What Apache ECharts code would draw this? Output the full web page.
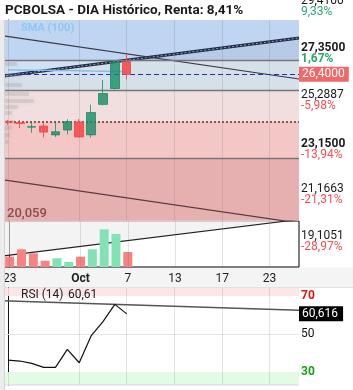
<!DOCTYPE html>
<html><head><meta charset="utf-8">
<script src="https://cdn.jsdelivr.net/npm/echarts@6/dist/echarts.min.js"></script>
<style>html,body{margin:0;padding:0;background:#fff}#c{width:353px;height:390px}</style>
</head><body><div id="c"></div>
<script>
// ---------- data ----------
const categories = ['2024-09-23','2024-09-24','2024-09-25','2024-09-26','2024-09-27','2024-09-30','2024-10-01','2024-10-02','2024-10-03','2024-10-04','2024-10-07',
  'f08','f09','f10','f11','f13','f14','f15','f16','f17','f18','f21','f23','f24','f25'];
const tickIndex = [0, 6, 10, 14, 18, 22];
const tickText  = ['23', 'Oct', '7', '13', '17', '23'];

const candleOpen  = [23.16, 23.10, 22.80, 22.87, 22.27, 22.60, 23.15, 22.27, 24.35, 25.43, 27.25];
const candleClose = [23.14, 23.05, 22.82, 22.46, 22.48, 23.17, 22.13, 23.79, 25.09, 27.23, 26.40];
const candleLow   = [22.94, 22.74, 22.41, 22.09, 22.13, 22.30, 22.11, 22.09, 24.28, 25.36, 26.05];
const candleHigh  = [23.29, 23.29, 23.15, 23.10, 23.10, 23.34, 23.34, 24.33, 26.01, 27.30, 27.78];
const volume      = [10.3, 17.7, 13.7, 6.3, 8.7, 5.0, 10.3, 17.7, 37.7, 33.0, 15.0];
const sma100      = [26.70, 26.69, 26.68, 26.67, 26.66, 26.65, 26.64, 26.62, 26.61, 26.59, 26.57];
const rsi14       = [36.3, 35.8, 34.6, 32.5, 32.5, 41.9, 34.9, 49.0, 56.5, 65.6, 60.6];

const lastPrice = 26.40;
const pivotLevel = 23.15;
const bandLevels = [30.1, 27.35, 25.2887, 23.15, 20.65, 16.4];
const bandColors = ['#b7cae6', '#d6e0e9', '#f1dfdf', '#f4c7c7', '#e6b0b0'];
const bandLines = [27.35, 25.2887, 20.65];

const trendUp    = [[-0.5, 26.26], [24.5, 28.87]];
const channelTop = [[-0.5, 29.04], [24.5, 26.08]];
const channelBot = [[-0.5, 19.22], [24.5, 16.26]];
const volTrend   = [[-0.5, 11.2], [24.5, 47.5]];
const rsiTrend   = [[-0.5, 67.5], [24.5, 62.5]];

const profilePrice = [27.10, 26.35, 25.67, 25.06, 24.58, 24.17, 23.76, 23.15, 22.74, 22.26, 21.78];
const profileVol   = [126, 152, 168, 227, 269, 135, 84, 109, 84, 67, 50];

const ladderValue = ['29,4100', '27,3500', '25,2887', '23,1500', '21,1663', '19,1051'];
const ladderPct   = ['9,33%', '1,67%', '-5,98%', '-13,94%', '-21,31%', '-28,97%'];
const ladderBold  = [false, true, false, true, false, false];

const titleText = 'PCBOLSA - DIA Histórico, Renta: 8,41%';
const rsiLast = 60.616;

// ---------- chart ----------
const FONT = 'Roboto, "Noto Sans", sans-serif';
const UP = 'rgba(22,140,100,0.8)', DOWN = 'rgba(242,78,78,0.9)';
const NOLINE = {color: 'rgba(0,0,0,0)', width: 0};
const chart = echarts.init(document.getElementById('c'), null, {renderer: 'canvas', width: 353, height: 390});

const candleData = candleOpen.map((o, i) => [o, candleClose[i], candleLow[i], candleHigh[i]]);
const volData = volume.map((v, i) => {
  const up = i === 0 ? candleClose[0] >= candleOpen[0] : candleClose[i] >= candleClose[i - 1];
  return {value: v, itemStyle: {color: up ? '#82e2b4' : '#f88282'}};
});
const vGrid = tickIndex.map(i => ({xAxis: i}));
const vGridStyle = {color: 'rgba(110,110,110,0.2)', width: 1, type: 'solid'};

const bandAreas = bandColors.map((c, i) => [{yAxis: bandLevels[i + 1], itemStyle: {color: c}}, {yAxis: bandLevels[i]}]);

const gridL = 2, gridR = 54;
const option = {
  animation: false,
  textStyle: {fontFamily: FONT},
  grid: [
    {left: gridL, right: gridR, top: 20, height: 201},
    {left: gridL, right: gridR, top: 221, height: 46, show: true, borderColor: '#000', borderWidth: 1},
    {left: gridL, right: gridR, top: 288, height: 97}
  ],
  xAxis: [
    {type: 'category', gridIndex: 0, data: categories, show: false},
    {type: 'value', gridIndex: 0, min: -0.5, max: 24.5, show: false},
    {type: 'category', gridIndex: 1, data: categories, axisLine: {show: false}, axisTick: {show: false},
      axisLabel: {interval: (idx) => tickIndex.includes(idx), formatter: (v, idx) => {
        const k = tickIndex.indexOf(idx); const t = k >= 0 ? tickText[k] : '';
        return t === 'Oct' ? '{b|Oct}' : t; }, color: '#222', fontSize: 12, margin: 6, fontFamily: FONT,
        rich: {b: {fontWeight: 'bold', fontSize: 12, color: '#222', fontFamily: FONT}}}},
    {type: 'value', gridIndex: 1, min: -0.5, max: 24.5, show: false},
    {type: 'category', gridIndex: 2, data: categories, show: false},
    {type: 'value', gridIndex: 2, min: -0.5, max: 24.5, show: false}
  ],
  yAxis: [
    {type: 'value', gridIndex: 0, min: 16.4, max: 30.1, position: 'right', axisLine: {show: true, lineStyle: {color: '#000'}},
      axisTick: {show: false}, axisLabel: {show: false}, splitLine: {show: false}},
    {type: 'value', gridIndex: 1, min: 0, max: 46, position: 'right', axisLine: {show: true, lineStyle: {color: '#000'}},
      axisTick: {show: false}, axisLabel: {show: false}, splitLine: {show: false}},
    {type: 'value', gridIndex: 2, min: 23.2, max: 74.2, position: 'right', axisLine: {show: true, lineStyle: {color: '#000'}},
      axisTick: {show: false}, axisLabel: {show: false}, splitLine: {show: false}}
  ],
  series: [
    { // background bands
      type: 'line', xAxisIndex: 1, yAxisIndex: 0, data: [], z: 1, silent: true,
      markArea: {silent: true, data: bandAreas},
      markLine: {silent: true, symbol: 'none', label: {show: false},
        data: bandLines.map(v => ({yAxis: v, lineStyle: {color: '#777', width: 1.3, type: 'solid'}}))
          .concat(vGrid.map(d => Object.assign({lineStyle: vGridStyle}, d)))}
    },
    { // fill above ascending trend line
      type: 'line', xAxisIndex: 1, yAxisIndex: 0, data: trendUp, symbol: 'none', z: 2, silent: true,
      lineStyle: {width: 3, color: '#1d2b48'}, areaStyle: {origin: 'end', color: 'rgba(205,228,255,0.62)'}
    },
    {
      type: 'line', xAxisIndex: 1, yAxisIndex: 0, data: trendUp, symbol: 'none', z: 3, silent: true,
      lineStyle: {width: 1, color: 'rgba(255,255,255,0.55)', type: [2, 2]}
    },
    {type: 'line', xAxisIndex: 1, yAxisIndex: 0, data: channelTop, symbol: 'none', z: 3, lineStyle: {width: 1.2, color: '#3a3a44'}},
    {type: 'line', xAxisIndex: 1, yAxisIndex: 0, data: channelBot, symbol: 'none', z: 3, lineStyle: {width: 1.2, color: '#5a3a40'}},
    { // volume-at-price profile
      type: 'custom', xAxisIndex: 1, yAxisIndex: 0, z: 3, silent: true,
      data: profilePrice.map((p, i) => [p, profileVol[i]]),
      renderItem: (params, api) => {
        const p = api.value(0), w = api.value(1) / 100;
        const a = api.coord([-0.5, p + 0.13]);
        const b = api.coord([-0.5 + w, p - 0.13]);
        return {type: 'rect', shape: {x: a[0], y: a[1], width: b[0] - a[0], height: b[1] - a[1]},
          style: {fill: 'rgba(150,150,150,0.25)', shadowBlur: 4, shadowColor: 'rgba(150,150,150,0.5)'}};
      }
    },
    {type: 'line', xAxisIndex: 0, yAxisIndex: 0, data: sma100, symbol: 'none', z: 4, lineStyle: {width: 1.5, color: '#7cc0f2'}},
    {
      type: 'candlestick', xAxisIndex: 0, yAxisIndex: 0, data: candleData, z: 5, barWidth: 9,
      itemStyle: {color: UP, color0: DOWN, borderColor: UP, borderColor0: DOWN, borderWidth: 1},
      markLine: {silent: true, symbol: 'none', animation: false,
        data: [
          {yAxis: pivotLevel, lineStyle: {color: '#8a5555', width: 2, type: [2, 2]}, label: {show: false}},
          {yAxis: lastPrice, lineStyle: {color: '#1f2fc8', width: 1, type: [5, 3]},
            label: {show: true, position: 'end', distance: 0, formatter: '26,4000', color: '#fff', backgroundColor: '#f26868',
              padding: [2, 4, 1, 3], fontSize: 12, fontFamily: FONT}}
        ]}
    },
    { // volume trend fill
      type: 'line', xAxisIndex: 3, yAxisIndex: 1, data: volTrend, symbol: 'none', z: 1, silent: true,
      lineStyle: {width: 1.2, color: '#222'}, areaStyle: {origin: 'end', color: '#eeeeee'},
      markLine: {silent: true, symbol: 'none', label: {show: false}, data: vGrid.map(d => Object.assign({lineStyle: vGridStyle}, d))}
    },
    {type: 'bar', xAxisIndex: 2, yAxisIndex: 1, data: volData, barWidth: 9, z: 4},
    { // RSI
      type: 'line', xAxisIndex: 4, yAxisIndex: 2, data: rsi14, symbol: 'none', z: 5, lineStyle: {width: 1.2, color: '#111'},
      markArea: {silent: true, data: [
        [{yAxis: 70, itemStyle: {color: '#fde6e6'}}, {yAxis: 74.2}],
        [{yAxis: 23.2, itemStyle: {color: '#e3fbe3'}}, {yAxis: 30}]
      ]},
      markLine: {silent: true, symbol: 'none', data: [
        {yAxis: 70, lineStyle: NOLINE, label: {show: true, position: 'end', distance: 2, formatter: '70', color: '#e81010', fontWeight: 'bold', fontSize: 12, fontFamily: FONT}},
        {yAxis: 50, lineStyle: {color: '#e4e4e4', width: 1, type: 'solid'}, label: {show: true, position: 'end', distance: 2, formatter: '50', color: '#111', fontSize: 12, fontFamily: FONT}},
        {yAxis: 30, lineStyle: NOLINE, label: {show: true, position: 'end', distance: 2, formatter: '30', color: '#18a018', fontWeight: 'bold', fontSize: 12, fontFamily: FONT}},
        {yAxis: rsiLast, lineStyle: NOLINE, label: {show: true, position: 'end', distance: 0, formatter: '60,616', color: '#fff', backgroundColor: '#000',
          padding: [2, 5, 1, 3], fontSize: 12, fontFamily: FONT}}
      ]}
    },
    {
      type: 'line', xAxisIndex: 5, yAxisIndex: 2, data: rsiTrend, symbol: 'none', z: 4, lineStyle: {width: 1.3, color: '#555'},
      markLine: {silent: true, symbol: 'none', label: {show: false}, data: vGrid.map(d => Object.assign({lineStyle: vGridStyle}, d))}
    }
  ],
  graphic: []
};
chart.setOption(option);

// ---------- text overlays ----------
const g = [];
g.push({type: 'rect', shape: {x: 0, y: 267.5, width: 353, height: 20.5}, style: {fill: '#f4f4f4'}, z: -10, silent: true});
g.push({type: 'rect', shape: {x: 0, y: 287, width: 353, height: 1}, style: {fill: '#e2e2e2'}, z: -9, silent: true});
g.push({type: 'rect', shape: {x: 0, y: 20, width: 4, height: 370}, style: {fill: '#ececec'}, z: 100, silent: true});
g.push({type: 'rect', shape: {x: 4, y: 20, width: 1, height: 370}, style: {fill: '#d4d4d4'}, z: 100, silent: true});
g.push({type: 'rect', shape: {x: 5, y: 384.5, width: 294, height: 1}, style: {fill: '#d8d8d8'}, z: 100, silent: true});
g.push({type: 'text', x: 5, y: 11, style: {text: titleText, font: 'bold 13.5px ' + FONT, fill: '#1a1a1a', textVerticalAlign: 'middle'}, z: 100});
g.push({type: 'text', x: 21, y: 28, style: {text: 'SMA (100)', font: 'bold 11px ' + FONT, fill: '#8cc8f2', textVerticalAlign: 'middle'}, z: 100});
g.push({type: 'text', x: 7, y: 214, style: {text: '20,059', font: '500 13px ' + FONT, fill: '#8a4d4d', textVerticalAlign: 'middle'}, z: 100});
g.push({type: 'text', x: 21, y: 295, style: {text: 'RSI (14)', font: '12px ' + FONT, fill: '#222', textVerticalAlign: 'middle'}, z: 100});
g.push({type: 'text', x: 68, y: 295, style: {text: '60,61', font: '12px ' + FONT, fill: '#222', textVerticalAlign: 'middle'}, z: 100});
ladderValue.forEach((t, k) => {
  const y = 1 + 47 * k + (k === 3 ? 2 : 0);
  g.push({type: 'text', x: 301, y: y, style: {text: t, font: (ladderBold[k] ? 'bold ' : '') + '12px ' + FONT, fill: '#1a1a1a', textVerticalAlign: 'middle'}, z: 100});
  const pc = ladderPct[k];
  g.push({type: 'text', x: 301, y: y + 11, style: {text: pc, font: (ladderBold[k] && k === 1 ? 'bold ' : '') + '12px ' + FONT,
    fill: pc.charAt(0) === '-' ? '#f05050' : '#27a86a', textVerticalAlign: 'middle'}, z: 100});
});
chart.setOption({graphic: g});
</script></body></html>
